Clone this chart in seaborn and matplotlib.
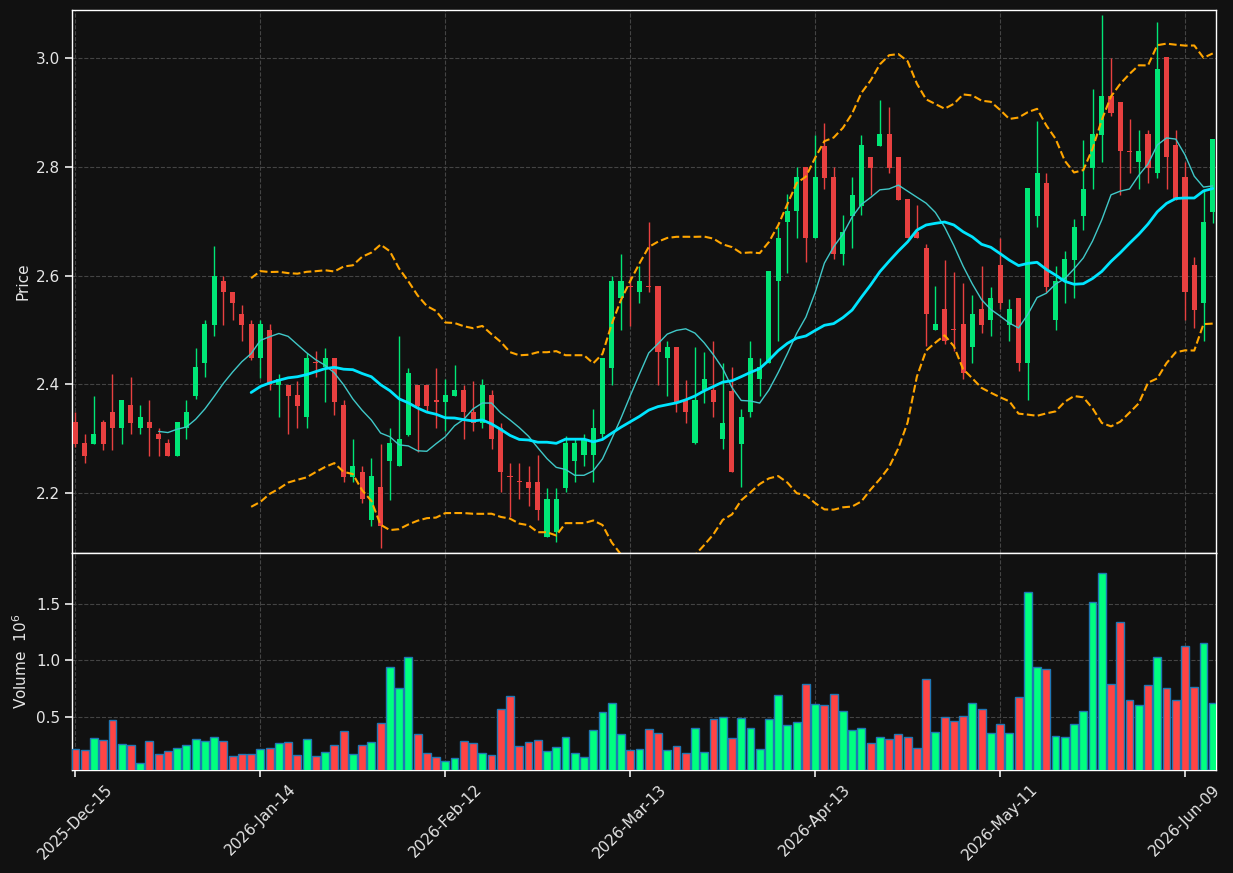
import numpy as np
import pandas as pd
import matplotlib
matplotlib.use('Agg')
import matplotlib.pyplot as plt
from matplotlib.ticker import MultipleLocator, FormatStrFormatter
import seaborn as sns

# OHLC values (one trading day per entry)
opens = [2.330, 2.291, 2.289, 2.330, 2.349, 2.319, 2.361, 2.319, 2.330, 2.309,
         2.291, 2.268, 2.319, 2.378, 2.439, 2.509, 2.589, 2.570, 2.530, 2.510,
         2.448, 2.500, 2.398, 2.399, 2.380, 2.339, 2.441, 2.431, 2.449, 2.361,
         2.229, 2.239, 2.149, 2.210, 2.258, 2.249, 2.307, 2.399, 2.399, 2.370,
         2.368, 2.378, 2.390, 2.349, 2.329, 2.380, 2.319, 2.231, 2.221, 2.220,
         2.220, 2.118, 2.128, 2.209, 2.258, 2.269, 2.269, 2.308, 2.430, 2.559,
         2.581, 2.570, 2.581, 2.580, 2.448, 2.469, 2.370, 2.291, 2.389, 2.390,
         2.299, 2.388, 2.289, 2.349, 2.410, 2.439, 2.589, 2.699, 2.719, 2.799,
         2.669, 2.839, 2.781, 2.639, 2.709, 2.728, 2.819, 2.839, 2.860, 2.819,
         2.740, 2.680, 2.650, 2.500, 2.539, 2.501, 2.510, 2.469, 2.539, 2.518,
         2.620, 2.509, 2.559, 2.439, 2.709, 2.770, 2.518, 2.589, 2.628, 2.709,
         2.798, 2.859, 2.930, 2.920, 2.830, 2.809, 2.860, 2.789, 3.002, 2.840,
         2.781, 2.620, 2.549, 2.717]
highs = [2.349, 2.309, 2.378, 2.334, 2.419, 2.370, 2.414, 2.361, 2.370, 2.319,
         2.299, 2.330, 2.370, 2.467, 2.518, 2.655, 2.600, 2.570, 2.545, 2.518,
         2.518, 2.510, 2.419, 2.399, 2.405, 2.457, 2.461, 2.466, 2.449, 2.370,
         2.299, 2.250, 2.264, 2.289, 2.319, 2.489, 2.430, 2.399, 2.399, 2.429,
         2.409, 2.436, 2.399, 2.405, 2.410, 2.389, 2.329, 2.255, 2.255, 2.250,
         2.270, 2.209, 2.209, 2.305, 2.299, 2.309, 2.355, 2.449, 2.599, 2.640,
         2.600, 2.618, 2.699, 2.580, 2.479, 2.469, 2.408, 2.469, 2.459, 2.479,
         2.439, 2.431, 2.355, 2.479, 2.449, 2.609, 2.689, 2.750, 2.799, 2.799,
         2.859, 2.880, 2.799, 2.711, 2.781, 2.859, 2.819, 2.923, 2.910, 2.819,
         2.740, 2.729, 2.658, 2.580, 2.628, 2.607, 2.586, 2.564, 2.618, 2.579,
         2.670, 2.557, 2.559, 2.761, 2.885, 2.789, 2.618, 2.645, 2.704, 2.850,
         2.944, 3.079, 3.000, 2.920, 2.889, 2.868, 2.868, 3.066, 3.002, 2.868,
         2.809, 2.635, 2.760, 2.851]
lows = [2.285, 2.255, 2.289, 2.278, 2.278, 2.289, 2.309, 2.309, 2.268, 2.268,
        2.268, 2.268, 2.299, 2.372, 2.414, 2.489, 2.509, 2.518, 2.479, 2.444,
        2.411, 2.389, 2.340, 2.309, 2.319, 2.319, 2.414, 2.368, 2.343, 2.220,
        2.220, 2.181, 2.138, 2.099, 2.186, 2.249, 2.305, 2.276, 2.349, 2.319,
        2.313, 2.378, 2.299, 2.314, 2.319, 2.280, 2.201, 2.155, 2.189, 2.176,
        2.149, 2.118, 2.110, 2.201, 2.220, 2.250, 2.220, 2.299, 2.398, 2.500,
        2.507, 2.549, 2.570, 2.399, 2.378, 2.349, 2.329, 2.289, 2.365, 2.340,
        2.280, 2.238, 2.211, 2.340, 2.378, 2.439, 2.480, 2.605, 2.670, 2.624,
        2.669, 2.760, 2.630, 2.620, 2.650, 2.711, 2.748, 2.839, 2.789, 2.739,
        2.669, 2.669, 2.470, 2.500, 2.474, 2.461, 2.410, 2.439, 2.495, 2.489,
        2.539, 2.480, 2.424, 2.370, 2.689, 2.569, 2.499, 2.549, 2.559, 2.684,
        2.760, 2.809, 2.894, 2.748, 2.789, 2.760, 2.770, 2.780, 2.760, 2.739,
        2.518, 2.503, 2.479, 2.697]
closes = [2.289, 2.268, 2.309, 2.289, 2.319, 2.370, 2.328, 2.340, 2.319, 2.299,
          2.268, 2.330, 2.349, 2.431, 2.510, 2.600, 2.569, 2.549, 2.509, 2.448,
          2.510, 2.398, 2.409, 2.378, 2.359, 2.449, 2.439, 2.449, 2.368, 2.229,
          2.250, 2.189, 2.230, 2.138, 2.291, 2.299, 2.420, 2.359, 2.359, 2.368,
          2.380, 2.390, 2.349, 2.329, 2.399, 2.299, 2.238, 2.229, 2.219, 2.209,
          2.168, 2.189, 2.189, 2.291, 2.291, 2.299, 2.320, 2.449, 2.589, 2.589,
          2.579, 2.589, 2.579, 2.459, 2.469, 2.368, 2.349, 2.370, 2.410, 2.368,
          2.329, 2.238, 2.340, 2.449, 2.431, 2.609, 2.670, 2.719, 2.781, 2.669,
          2.781, 2.780, 2.640, 2.680, 2.749, 2.840, 2.798, 2.860, 2.798, 2.739,
          2.669, 2.669, 2.530, 2.510, 2.480, 2.499, 2.420, 2.530, 2.509, 2.559,
          2.549, 2.539, 2.439, 2.761, 2.789, 2.579, 2.589, 2.630, 2.689, 2.760,
          2.860, 2.930, 2.899, 2.829, 2.828, 2.830, 2.798, 2.980, 2.819, 2.739,
          2.569, 2.537, 2.699, 2.851]
# volume in millions
volumes = [0.213, 0.204, 0.311, 0.293, 0.470, 0.257, 0.249, 0.089, 0.284, 0.169,
           0.195, 0.222, 0.249, 0.302, 0.284, 0.320, 0.284, 0.151, 0.169, 0.169,
           0.213, 0.222, 0.266, 0.275, 0.160, 0.302, 0.151, 0.186, 0.249, 0.373,
           0.169, 0.249, 0.275, 0.444, 0.941, 0.754, 1.030, 0.346, 0.178, 0.142,
           0.107, 0.133, 0.284, 0.266, 0.178, 0.160, 0.568, 0.683, 0.240, 0.275,
           0.293, 0.195, 0.231, 0.320, 0.178, 0.142, 0.382, 0.541, 0.621, 0.346,
           0.204, 0.213, 0.391, 0.355, 0.204, 0.240, 0.178, 0.399, 0.186, 0.479,
           0.497, 0.311, 0.488, 0.399, 0.213, 0.479, 0.692, 0.426, 0.453, 0.790,
           0.612, 0.604, 0.701, 0.550, 0.382, 0.399, 0.266, 0.320, 0.302, 0.346,
           0.320, 0.222, 0.834, 0.364, 0.497, 0.462, 0.506, 0.621, 0.568, 0.355,
           0.435, 0.355, 0.675, 1.607, 0.941, 0.923, 0.328, 0.320, 0.435, 0.550,
           1.518, 1.775, 0.790, 1.340, 0.648, 0.604, 0.781, 1.030, 0.754, 0.648,
           1.127, 0.763, 1.154, 0.621]
tick_labels = ['2025-Dec-15', '2026-Jan-14', '2026-Feb-12', '2026-Mar-13',
               '2026-Apr-13', '2026-May-11', '2026-Jun-09']

BG = '#111111'
UP, DOWN = '#00e676', '#e84040'
VOL_UP, VOL_DOWN = '#00ff80', '#ff4444'
TXT = '#e6e6e6'

df = pd.DataFrame({'Open': opens, 'High': highs, 'Low': lows,
                   'Close': closes, 'Volume': volumes})
df['x'] = np.arange(len(df))
df['ma10'] = df['Close'].rolling(10).mean()
df['ma20'] = df['Close'].rolling(20).mean()
sd = df['Close'].rolling(20).std(ddof=0)
df['bb_up'] = df['ma20'] + 2 * sd
df['bb_lo'] = df['ma20'] - 2 * sd
up = df['Close'] >= df['Open']

sns.set_theme(style='dark', rc={'figure.facecolor': BG, 'axes.facecolor': BG,
                                'axes.edgecolor': 'white', 'text.color': TXT,
                                'axes.labelcolor': TXT, 'xtick.color': TXT,
                                'ytick.color': TXT})
plt.rcParams['font.family'] = ['DejaVu Sans']

fig = plt.figure(figsize=(12.33, 8.73), dpi=100)
ax_p = fig.add_axes([0.0582, 0.3666, 0.928, 0.6219])
ax_v = fig.add_axes([0.0582, 0.118, 0.928, 0.2486], sharex=ax_p)

# candles
body_lo = np.minimum(df['Open'], df['Close'])
body_h = np.maximum((df['Close'] - df['Open']).abs(), 0.002)
cols = np.where(up, UP, DOWN)
ax_p.vlines(df['x'], df['Low'], df['High'], colors=cols, linewidth=1, zorder=2)
ax_p.bar(df['x'], body_h, bottom=body_lo, width=0.55, color=cols,
         linewidth=0, zorder=3)

# moving averages and bands
sns.lineplot(data=df, x='x', y='ma10', ax=ax_p, color='#40c8c8', linewidth=1, zorder=4)
sns.lineplot(data=df, x='x', y='ma20', ax=ax_p, color='#00e5ff', linewidth=2, zorder=4)
for col in ['bb_up', 'bb_lo']:
    sns.lineplot(data=df, x='x', y=col, ax=ax_p, color='#ffa500',
                 linewidth=1.5, linestyle='--', zorder=4)

# volume
ax_v.bar(df['x'], df['Volume'], width=0.85, color=np.where(up, VOL_UP, VOL_DOWN),
         edgecolor='#1f77b4', linewidth=1, zorder=3)

pad = 0.01 * (df['High'].max() - df['Low'].min())
ax_p.set_ylim(df['Low'].min() - pad, df['High'].max() + pad)
ax_v.set_ylim(0.3 * df['Volume'].min(), 1.1 * df['Volume'].max())
ax_p.set_xlim(-0.4, len(df) - 0.65)

ax_p.yaxis.set_major_locator(MultipleLocator(0.2))
ax_p.yaxis.set_major_formatter(FormatStrFormatter('%.1f'))
ax_v.yaxis.set_major_locator(MultipleLocator(0.5))
ax_v.yaxis.set_major_formatter(FormatStrFormatter('%.1f'))

ticks = np.arange(0, len(df), 20)
ax_v.set_xticks(ticks)
ax_v.set_xticklabels(tick_labels, rotation=45, fontsize=11)
ax_p.tick_params(axis='x', labelbottom=False, length=0)

for ax in (ax_p, ax_v):
    ax.grid(True, color='#444444', linestyle='--', linewidth=0.8)
    ax.set_axisbelow(True)
    ax.tick_params(axis='y', labelsize=11, length=5, left=True, colors=TXT)
    ax.tick_params(axis='x', length=5, bottom=True, colors=TXT)
    for s in ax.spines.values():
        s.set_color('white')
        s.set_linewidth(1)
    ax.set_xlabel('')

ax_p.set_ylabel('Price', fontsize=11)
ax_v.set_ylabel('Volume  $10^{6}$', fontsize=11)

fig.savefig('out.png', dpi=100, facecolor=BG)
